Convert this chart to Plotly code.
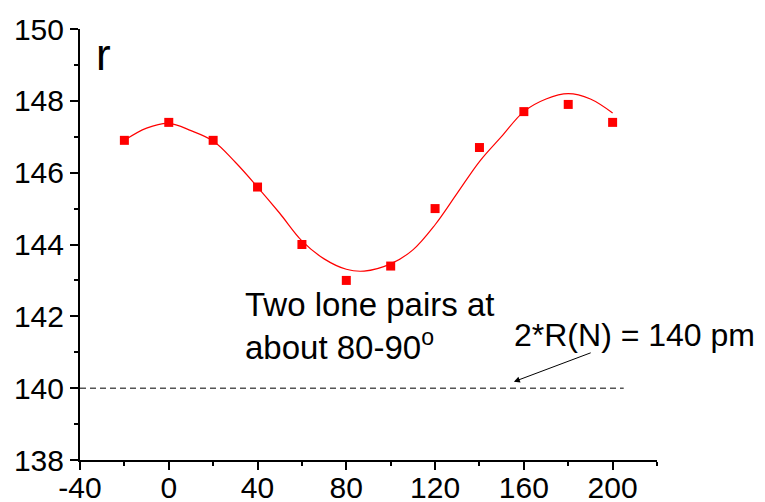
import plotly.graph_objects as go

# Measured data (angle vs r)
angle = [-20, 0, 20, 40, 60, 80, 100, 120, 140, 160, 180, 200]
r_val = [146.9, 147.4, 146.9, 145.6, 144.0, 143.0, 143.4, 145.0, 146.7, 147.7, 147.9, 147.4]

# Fitted curve
fit_x = [-20, -10, 0, 10, 20, 30, 40, 50, 60, 70, 80, 88, 100, 110, 120, 130, 140, 150, 160, 170, 180, 190, 200]
fit_y = [146.9, 147.24, 147.37, 147.17, 146.88, 146.29, 145.6, 144.87, 144.1, 143.6, 143.31, 143.26, 143.46,
         143.85, 144.55, 145.43, 146.31, 147.01, 147.7, 148.05, 148.2, 148.05, 147.66]

# Reference line 2*R(N) = 140 pm
ref_x = [-40, 205]
ref_y = [140, 140]

x_ticks = [-40, 0, 40, 80, 120, 160, 200]
x_labels = ["-40", "0", "40", "80", "120", "160", "200"]
y_ticks = [138, 140, 142, 144, 146, 148, 150]

FONT = "Arial, 'Liberation Sans', sans-serif"

fig = go.Figure()
fig.add_trace(go.Scatter(x=ref_x, y=ref_y, mode="lines",
                         line=dict(color="#555555", width=1.5, dash="6px,4px"),
                         showlegend=False, hoverinfo="skip"))
fig.add_trace(go.Scatter(x=fit_x, y=fit_y, mode="lines",
                         line=dict(color="#ff0000", width=1.2, shape="spline", smoothing=1.0),
                         showlegend=False))
fig.add_trace(go.Scatter(x=angle, y=r_val, mode="markers",
                         marker=dict(symbol="square", size=9, color="#ff0000"),
                         showlegend=False))

fig.add_annotation(x=-33.5, y=149.3, xref="x", yref="y", text="r", showarrow=False,
                   xanchor="left", yanchor="middle", font=dict(family=FONT, size=44, color="black"))
fig.add_annotation(x=33.5, y=141.74, xref="x", yref="y",
                   text="Two lone pairs at<br>about 80-90<sup>o</sup>", showarrow=False,
                   xanchor="left", yanchor="middle", align="left",
                   font=dict(family=FONT, size=33, color="black"))
fig.add_annotation(x=154.7, y=141.49, xref="x", yref="y", text="2*R(N) = 140 pm",
                   showarrow=False, xanchor="left", yanchor="middle",
                   font=dict(family=FONT, size=32, color="black"))
fig.add_annotation(x=155.5, y=140.18, ax=190.8, ay=141.0, xref="x", yref="y",
                   axref="x", ayref="y", text="", showarrow=True,
                   arrowhead=2, arrowsize=1.2, arrowwidth=1, arrowcolor="black")

fig.update_xaxes(range=[-40, 220], tickvals=x_ticks, ticktext=x_labels, ticks="outside",
                 ticklen=8, tickwidth=2, automargin=False, ticklabelstandoff=-8,
                 tickcolor="black", showline=True, linecolor="black", linewidth=2,
                 showgrid=False, zeroline=False,
                 tickfont=dict(family=FONT, size=30, color="black"),
                 minor=dict(tickvals=[-20, 20, 60, 100, 140, 180, 220], ticks="outside",
                            ticklen=4, tickwidth=2, tickcolor="black"))
fig.update_yaxes(range=[138, 150], tickvals=y_ticks, ticks="outside", ticklen=8, tickwidth=2,
                 tickcolor="black", showline=True, linecolor="black", linewidth=2,
                 showgrid=False, zeroline=False, automargin=False,
                 tickfont=dict(family=FONT, size=30, color="black"),
                 minor=dict(tickvals=[139, 141, 143, 145, 147, 149], ticks="outside",
                            ticklen=4, tickwidth=2, tickcolor="black"))

fig.update_layout(width=765, height=502, margin=dict(l=72, r=116, t=21, b=50),
                  plot_bgcolor="white", paper_bgcolor="white", showlegend=False)

fig.write_html("out.html")
